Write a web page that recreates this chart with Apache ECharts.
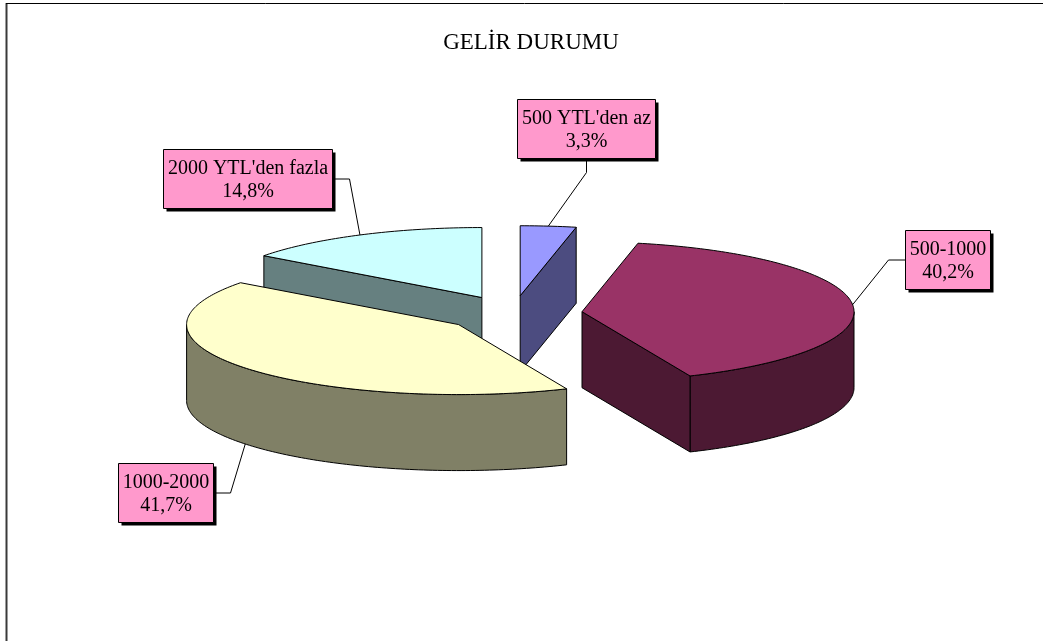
<!DOCTYPE html>
<html><head><meta charset="utf-8">
<script src="https://cdn.jsdelivr.net/npm/echarts@6/dist/echarts.min.js"></script>
<style>html,body{margin:0;padding:0;background:#fff}#chart{width:1043px;height:641px}</style>
</head><body><div id="chart"></div>
<script>
// ---- data ----
const chartTitle = 'GELİR DURUMU';
const categories = ["500 YTL'den az", '500-1000', '1000-2000', "2000 YTL'den fazla"];
const values = [3.3, 40.2, 41.7, 14.8];

// ---- style / layout ----
const topColors = ['#9999FF', '#993366', '#FFFFCC', '#CCFFFF'];
const sideColors = ['#4C4C80', '#4C1933', '#808066', '#668080'];
const CX = 513, CY = 313.5, RX = 272, RY = 70, DEPTH = 76, EXPLODE = 0.255;
const labelOffsets = [[37.5, -97.5], [94.5, -45.5], [-80, 48.5], [-112, -56]];
const labelSides = ['bottom', 'left', 'right', 'right'];
const FONT = '20px "Liberation Serif", "Times New Roman", serif';
const LINE_H = 23;

const total = values.reduce((a, b) => a + b, 0);
const fmt = v => (v / total * 100).toFixed(1).replace('.', ',') + '%';

const measureCtx = document.createElement('canvas').getContext('2d');
measureCtx.font = FONT;

function sliceGeom(i) {
  let start = 0;
  for (let k = 0; k < i; k++) start += values[k] / total * 2 * Math.PI;
  const end = start + values[i] / total * 2 * Math.PI;
  const mid = (start + end) / 2;
  return {
    start, end, mid,
    ax: CX + EXPLODE * RX * Math.sin(mid),
    ay: CY - EXPLODE * RY * Math.cos(mid)
  };
}
const rim = (g, a, d = 0) => [g.ax + RX * Math.sin(a), g.ay - RY * Math.cos(a) + d];

function renderItem(params, api) {
  const i = params.dataIndex;
  const g = sliceGeom(i);
  const order = values.map((_, k) => k).sort((p, q) => sliceGeom(p).ay - sliceGeom(q).ay);
  const zb = order.indexOf(i) * 10;
  const stroke = { stroke: '#000', lineWidth: 1, lineJoin: 'round' };
  const children = [];
  const step = Math.PI / 180;

  // outer wall (front half only)
  const s = Math.max(g.start, Math.PI / 2), e = Math.min(g.end, 3 * Math.PI / 2);
  if (e > s) {
    const n = Math.max(2, Math.ceil((e - s) / step));
    const pts = [];
    for (let k = 0; k <= n; k++) pts.push(rim(g, s + (e - s) * k / n));
    for (let k = n; k >= 0; k--) pts.push(rim(g, s + (e - s) * k / n, DEPTH));
    children.push({ type: 'polygon', z2: zb + 1, shape: { points: pts }, style: Object.assign({ fill: sideColors[i] }, stroke) });
  }
  // radial cut faces
  const face = a => {
    const p = rim(g, a);
    return [[g.ax, g.ay], p, [p[0], p[1] + DEPTH], [g.ax, g.ay + DEPTH]];
  };
  if (Math.cos(g.start - Math.PI / 2) < -1e-6)
    children.push({ type: 'polygon', z2: zb + 1, shape: { points: face(g.start) }, style: Object.assign({ fill: sideColors[i] }, stroke) });
  if (Math.cos(g.end + Math.PI / 2) < -1e-6)
    children.push({ type: 'polygon', z2: zb + 1, shape: { points: face(g.end) }, style: Object.assign({ fill: sideColors[i] }, stroke) });
  // top face
  const top = [[g.ax, g.ay]];
  const nt = Math.max(2, Math.ceil((g.end - g.start) / step));
  for (let k = 0; k <= nt; k++) top.push(rim(g, g.start + (g.end - g.start) * k / nt));
  children.push({ type: 'polygon', z2: zb + 2, shape: { points: top }, style: Object.assign({ fill: topColors[i] }, stroke) });

  // label box + leader line
  const off = labelOffsets[i];
  const anchor = rim(g, g.mid, off[1] > 0 ? DEPTH : 0);
  const lines = [categories[i], fmt(values[i])];
  const w = Math.ceil(Math.max(...lines.map(t => measureCtx.measureText(t).width))) + 8;
  const h = LINE_H * 2 + 13;
  const bx = anchor[0] + off[0], by = anchor[1] + off[1];
  const left = Math.round(bx - w / 2) + 0.5, topY = Math.round(by - h / 2) + 0.5;
  let p1, p2;
  const side = labelSides[i];
  if (side === 'bottom') { p1 = [left + w / 2, topY + h]; p2 = [p1[0], p1[1] + 14]; }
  else if (side === 'top') { p1 = [left + w / 2, topY]; p2 = [p1[0], p1[1] - 14]; }
  else if (side === 'left') { p1 = [left, topY + h / 2]; p2 = [p1[0] - 17, p1[1]]; }
  else { p1 = [left + w, topY + h / 2]; p2 = [p1[0] + 17, p1[1]]; }
  children.push({ type: 'polyline', z2: 100, shape: { points: [anchor, p2, p1] }, style: { stroke: '#000', lineWidth: 1, fill: null } });
  children.push({ type: 'rect', z2: 101, shape: { x: left + 3, y: topY + 3, width: w, height: h }, style: { fill: '#000' } });
  children.push({ type: 'rect', z2: 102, shape: { x: left, y: topY, width: w, height: h }, style: { fill: '#FF99CC', stroke: '#000', lineWidth: 1 } });
  children.push({
    type: 'text', z2: 103, x: left + w / 2, y: topY + h / 2 + 1,
    style: { text: lines.join('\n'), font: FONT, fill: '#000', align: 'center', verticalAlign: 'middle', textAlign: 'center', textVerticalAlign: 'middle', lineHeight: LINE_H }
  });
  return { type: 'group', children };
}

const chart = echarts.init(document.getElementById('chart'), null, { renderer: 'canvas' });
chart.setOption({
  animation: false,
  backgroundColor: '#fff',
  title: {
    text: chartTitle, left: 526, top: 26, textAlign: 'center',
    textStyle: { fontFamily: 'Liberation Serif', fontSize: 23, fontWeight: 'normal', color: '#000' }
  },
  graphic: [
    { type: 'line', shape: { x1: 6.5, y1: 3, x2: 6.5, y2: 641 }, style: { stroke: '#3a3a3a', lineWidth: 2 } },
    { type: 'line', shape: { x1: 6, y1: 3.5, x2: 1043, y2: 3.5 }, style: { stroke: '#000', lineWidth: 1 } }
  ],
  series: [{
    type: 'custom',
    coordinateSystem: 'none',
    renderItem,
    data: values
  }]
});
</script>
</body></html>
